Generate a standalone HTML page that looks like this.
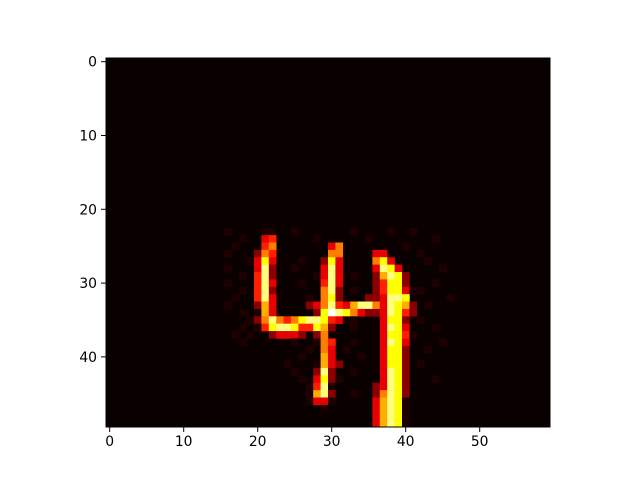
<!DOCTYPE html>
<html><head><meta charset="utf-8"><style>
html,body{margin:0;padding:0;background:#fff;}
svg text{font-family:"DejaVu Sans","Liberation Sans",sans-serif;font-size:13.9px;fill:#000;}
</style></head>
<body>
<svg id="chart" width="640" height="480" viewBox="0 0 640 480" xmlns="http://www.w3.org/2000/svg">
<g id="cells"></g>
<g id="axes"></g>
</svg>
<script>
// grid size
const nCols = 60;
const nRows = 50;
// column offset of encoded region
const colStart = 15;
const rowStart = 23;
// intensity levels per digit
const levels = [0, 0.03, 0.19, 0.33, 0.41, 0.55, 0.62, 0.74, 0.87, 1.0];
// rows 23..49, columns 15..47 encoded as digits
const rowData = [
"010000110010000000100001001000000",
"000100340000010000001000000001000",
"001000450000000350000000010000000",
"010002540000000550000330000100000",
"000013730001002730000573000010000",
"010003820010003830000387300000100",
"000104820000013830100268720000000",
"010004830001004830000247720001000",
"000104820000005820100247731100000",
"001004830000105720002238870000010",
"010002630000235843688538762010000",
"000101630000027987532238742000000",
"000012585457887431100037720100000",
"000101478874476200100038730001000",
"001010023332025000000037741000000",
"000100000010015400100038730000100",
"000000000000105301000037720010000",
"000000000001006300010037720000000",
"000000000100016320000037720100000",
"000000000010028200100038720000000",
"000000000001037210000038720001000",
"000000000000148100000238720000000",
"000000000000168200100258720000000",
"000000000000133100000368710000000",
"000000000000001000000368710000000",
"000000000000000000000368710000000",
"000000000000000000000368710000000"
];
const xTicks = [0, 10, 20, 30, 40, 50];
const yTicks = [0, 10, 20, 30, 40];

const L = 106, T = 58, W = 444, H = 369;
const cw = W / nCols, ch = H / nRows;
const xPos = c => L + c * cw;
const yPos = r => T + r * ch;
function hot(v){
  const r = Math.min(1, 0.0416 + v / 0.365 * (1 - 0.0416));
  const g = Math.max(0, Math.min(1, (v - 0.365) / 0.375));
  const b = Math.max(0, Math.min(1, (v - 0.746) / 0.254));
  return `rgb(${Math.round(r*255)},${Math.round(g*255)},${Math.round(b*255)})`;
}
const NS = "http://www.w3.org/2000/svg";
const cells = document.getElementById('cells');
const bg = document.createElementNS(NS, 'rect');


bg.setAttribute('x', L); bg.setAttribute('y', T); bg.setAttribute('width', W); bg.setAttribute('height', H);
bg.setAttribute('fill', hot(0));
cells.appendChild(bg);
rowData.forEach((s, i) => {
  for (let j = 0; j < s.length; j++) {
    const d = +s[j];
    if (!d) continue;
    const r = rowStart + i, c = colStart + j;
    const x0 = xPos(c), y0 = yPos(r);
    const rect = document.createElementNS(NS, 'rect');
    
    
    rect.setAttribute('x', x0.toFixed(2));
    rect.setAttribute('y', y0.toFixed(2));
    rect.setAttribute('width', (cw + 0.3).toFixed(2));
    rect.setAttribute('height', (ch + 0.3).toFixed(2));
    rect.setAttribute('fill', hot(levels[d]));
    cells.appendChild(rect);
  }
});
const axes = document.getElementById('axes');
const frame = document.createElementNS(NS, 'rect');


frame.setAttribute('x', L); frame.setAttribute('y', T); frame.setAttribute('width', W); frame.setAttribute('height', H);
frame.setAttribute('fill', 'none'); frame.setAttribute('stroke', '#000'); frame.setAttribute('stroke-width', '1');
axes.appendChild(frame);
xTicks.forEach(v => {
  const x = xPos(v + 0.5);
  const ln = document.createElementNS(NS, 'line');
  
  
  ln.setAttribute('x1', x); ln.setAttribute('x2', x);
  ln.setAttribute('y1', T + H); ln.setAttribute('y2', T + H + 5);
  ln.setAttribute('stroke', '#000');
  axes.appendChild(ln);
  const t = document.createElementNS(NS, 'text');
  
  
  t.setAttribute('x', x); t.setAttribute('y', T + H + 19);
  t.setAttribute('text-anchor', 'middle');
  t.textContent = v;
  axes.appendChild(t);
});
yTicks.forEach(v => {
  const y = yPos(v + 0.5);
  const ln = document.createElementNS(NS, 'line');
  
  
  ln.setAttribute('x1', L - 5); ln.setAttribute('x2', L);
  ln.setAttribute('y1', y); ln.setAttribute('y2', y);
  ln.setAttribute('stroke', '#000');
  axes.appendChild(ln);
  const t = document.createElementNS(NS, 'text');
  
  
  t.setAttribute('x', L - 9); t.setAttribute('y', y + 5);
  t.setAttribute('text-anchor', 'end');
  t.textContent = v;
  axes.appendChild(t);
});
</script>
</body></html>
